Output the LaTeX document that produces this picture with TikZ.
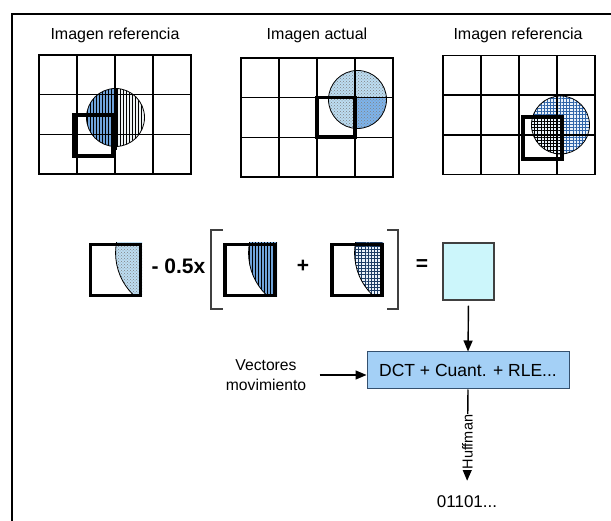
\documentclass[tikz,border=0pt]{standalone}
\usepackage{fontspec}
\setmainfont{Liberation Sans}
\usetikzlibrary{patterns,patterns.meta,arrows.meta}

\definecolor{stripeblue}{HTML}{6FA3DA}
\definecolor{palegray}{HTML}{EEF3F4}
\definecolor{dotblue}{HTML}{BCDDF2}
\definecolor{deepblue}{HTML}{7DB4EC}
\definecolor{hatchbg}{HTML}{EAF2FA}
\definecolor{hatchblue}{HTML}{2F64A8}
\definecolor{resfill}{HTML}{CCF6FB}
\definecolor{resedge}{HTML}{404040}
\definecolor{boxfill}{HTML}{A4D0F6}
\definecolor{boxedge}{HTML}{34506E}

% 4 x 3 grid with its top-left corner at (#1,#2)
\newcommand\cellgrid[2]{%
  \foreach \i in {0,...,4}
    \draw[gridline] ({#1+38*\i},#2) -- ({#1+38*\i},{#2+119});
  \foreach \j in {0,...,3}
    \draw[gridline] (#1,{#2+39.67*\j}) -- ({#1+152},{#2+39.67*\j});
}

\begin{document}
\begin{tikzpicture}[x=1pt,y=-1pt,
  gridline/.style={line width=1.6pt,line cap=rect},
  thickbox/.style={line width=3.6pt,line join=miter},
  rim/.style={line width=0.8pt},
  stripes/.style={pattern={Lines[angle=90,distance=3pt,line width=0.8pt]},pattern color=black},
  hatch/.style={pattern={Hatch[angle=0,distance=3.2pt,line width=0.5pt]},pattern color=#1},
  title/.style={font=\fontsize{16}{19}\selectfont},
  opsym/.style={font=\fontsize{21}{24}\selectfont\bfseries},
  eqsq/.style={draw,line width=3.6pt,minimum width=50pt,minimum height=51pt,inner sep=0pt},
  bracket/.style={line width=1.6pt,color=resedge},
  res/.style={draw=resedge,fill=resfill,line width=1.2pt,minimum width=51pt,minimum height=57pt,inner sep=0pt},
  stage/.style={draw=boxedge,fill=boxfill,line width=1pt,minimum width=202pt,minimum height=37pt,
                inner sep=0pt,font=\fontsize{17.5}{20}\selectfont},
  label/.style={font=\fontsize{15.7}{19.5}\selectfont,align=center},
  arr/.style={line width=1.4pt,-{Triangle[width=9pt,length=11pt]}},
]
\useasboundingbox (0,0) rectangle (611,521);

% outer frame (top and left sides only)
\draw[line width=1.5pt] (12,521) -- (12,14) -- (611,14);

% ---------- titles ----------
\node[title] (t1) at (115,35) {Imagen referencia};
\node[title] (t2) at (317,35) {Imagen actual};
\node[title] (t3) at (518,35) {Imagen referencia};

% ---------- first reference frame: vertical stripes ----------
\begin{scope}
  \clip (80,80) rectangle (115.5,160);
  \fill[stripeblue] (115.5,117.5) circle[radius=29];
  \fill[stripes] (115.5,117.5) circle[radius=29];
\end{scope}
\begin{scope}
  \clip (115.5,80) rectangle (150,160);
  \fill[palegray] (115.5,117.5) circle[radius=29];
  \fill[stripes] (115.5,117.5) circle[radius=29];
\end{scope}
\draw[rim] (115.5,117.5) circle[radius=29];
\cellgrid{39}{55}
\draw[line width=2.8pt] (115.5,88.5) -- (115.5,150);
\draw[thickbox] (74,115) rectangle (113,156);

% ---------- current frame: dotted disc ----------
\fill[dotblue] (357.5,99.5) circle[radius=29];
\begin{scope}
  \clip (355,97.7) rectangle (400,140);
  \fill[deepblue] (357.5,99.5) circle[radius=29];
\end{scope}
\fill[pattern=crosshatch dots,pattern color=gray] (357.5,99.5) circle[radius=29];
\draw[rim] (357.5,99.5) circle[radius=29];
\cellgrid{241}{58}
\draw[thickbox] (317,97.7) rectangle (355,137.3);

% ---------- second reference frame: cross-hatched disc ----------
\fill[hatchbg] (560.5,125) circle[radius=29];
\fill[hatch=hatchblue] (560.5,125) circle[radius=29];
\begin{scope}
  \clip (523,117) rectangle (562,159);
  \fill[hatch=black] (560.5,125) circle[radius=29];
\end{scope}
\draw[rim] (560.5,125) circle[radius=29];
\cellgrid{443}{55.5}
\draw[thickbox] (523,117) rectangle (562,159);

% ---------- prediction equation ----------
% block 1: dotted segment
\begin{scope}
  \clip (89,243) rectangle (142,297);
  \fill[dotblue] (174,253) circle[radius=58.4];
  \fill[pattern=crosshatch dots,pattern color=gray] (174,253) circle[radius=58.4];
  \draw[rim] (174,253) circle[radius=58.4];
\end{scope}
\node[eqsq] (b1) at (115.5,270) {};

\node[opsym] (minus) at (178.5,266) {- 0.5x};

\draw[bracket] (223,230) -- (211,230) -- (211,309) -- (223,309);

% block 2: striped segment
\begin{scope}
  \clip (223,243) rectangle (277,297);
  \fill[stripeblue] (307,253) circle[radius=58.4];
  \fill[stripes] (307,253) circle[radius=58.4];
  \draw[rim] (307,253) circle[radius=58.4];
\end{scope}
\node[eqsq] (b2) at (250,270) {};

\node[opsym] (plus) at (303,266) {+};

% block 3: cross-hatched segment
\begin{scope}
  \clip (331,243) rectangle (383,297);
  \fill[hatchbg] (413,253) circle[radius=58.4];
  \fill[hatch=hatchblue!60!black] (413,253) circle[radius=58.4];
  \draw[rim] (413,253) circle[radius=58.4];
\end{scope}
\node[eqsq] (b3) at (357,270) {};

\draw[bracket] (387,230) -- (398,230) -- (398,309) -- (387,309);

\node[opsym] (eq) at (422,265) {=};

\node[res] (res) at (468.5,271.5) {};

% ---------- coding chain ----------
\node[stage] (dct) at (468,370.5) {DCT + Cuant. + RLE...};
\node[label] (vec) at (266,375) {Vectores\\movimiento};
\node[font=\fontsize{17}{20}\selectfont,inner sep=1pt] (bits) at (467,502) {01101...};

\draw[arr,shorten <=5pt] (res.south) -- (dct.north);
\draw[arr,shorten <=10pt] (vec.east) -- (vec.east -| dct.west);
\draw[arr,shorten >=14pt] (dct.south) -- (bits.north)
  node[midway,rotate=90,fill=white,inner sep=0.5pt,font=\fontsize{14.5}{17}\selectfont] (huff) {Huffman};

\end{tikzpicture}
\end{document}
